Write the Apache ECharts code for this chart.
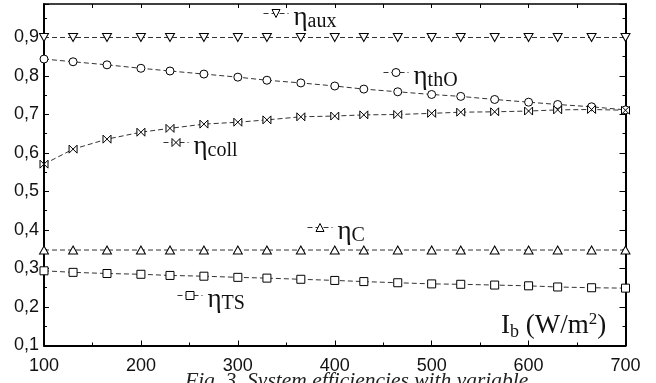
<!DOCTYPE html>
<html><head><meta charset="utf-8">
<script src="https://cdn.jsdelivr.net/npm/echarts@6/dist/echarts.min.js"></script>
<style>html,body{margin:0;padding:0;background:#fff}#c{width:656px;height:383px}</style>
</head><body><div id="c"></div>
<script>
// Beam irradiance I_b (W/m2)
const irradiance = [100,130,165,200,230,265,300,330,365,400,430,465,500,530,565,600,630,665,700];
const etaAux  = [0.900,0.900,0.900,0.900,0.900,0.900,0.900,0.900,0.900,0.900,0.900,0.900,0.900,0.900,0.900,0.900,0.900,0.900,0.900];
const etaThO  = [0.844,0.837,0.829,0.820,0.813,0.805,0.797,0.789,0.782,0.774,0.766,0.759,0.752,0.747,0.739,0.732,0.726,0.720,0.712];
const etaColl = [0.571,0.610,0.636,0.654,0.664,0.675,0.680,0.686,0.694,0.696,0.699,0.700,0.703,0.706,0.707,0.709,0.712,0.713,0.711];
const etaC    = [0.348,0.348,0.348,0.348,0.348,0.348,0.348,0.348,0.348,0.348,0.348,0.348,0.348,0.348,0.348,0.348,0.348,0.348,0.348];
const etaTS   = [0.294,0.290,0.287,0.285,0.282,0.280,0.277,0.275,0.272,0.269,0.266,0.263,0.260,0.259,0.257,0.255,0.252,0.250,0.249];
const yTicks  = ['0,1','0,2','0,3','0,4','0,5','0,6','0,7','0,8','0,9'];
const xTicks  = ['100','200','300','400','500','600','700'];

const SERIF = 'Liberation Serif';
const SANS = 'Liberation Sans';

function pairs(ys){ return irradiance.map((x,i)=>[x, ys[i]]); }
function line(name, ys, symbol, size, rotate){
  return {
    name, type:'line', data: pairs(ys), symbol, symbolSize:size, symbolRotate: rotate||0,
    showAllSymbol:true, animation:false, z:3,
    lineStyle:{color:'#333', width:1, type:[5,3]},
    itemStyle:{color:'#fff', borderColor:'#000', borderWidth:1}
  };
}
function lg(name, left, top){
  return {
    data:[name], left, top, padding:0, itemWidth:25, itemHeight:10, selectedMode:false,
    itemStyle:{color:'#fff', borderColor:'#000', borderWidth:1},
    lineStyle:{color:'#333', width:1, type:[5,3]},
    formatter: n => '{e|η}{s|' + n + '}',
    textStyle:{ padding:[8,0,0,0], rich:{
      e:{fontFamily:SERIF, fontSize:27, lineHeight:28, color:'#111'},
      s:{fontFamily:SERIF, fontSize:20, lineHeight:21, verticalAlign:'bottom', color:'#111'}
    }}
  };
}
const chart = echarts.init(document.getElementById('c'));
const tickCol = '#000';
chart.setOption({
  animation:false,
  backgroundColor:'#fff',
  grid:{left:44, right:30.5, top:4, bottom:37.5},
  xAxis:[
    {type:'value', min:100, max:700, interval:100, position:'bottom',
     axisLine:{lineStyle:{color:tickCol, width:2}},
     axisTick:{inside:true, length:5, lineStyle:{color:tickCol, width:1}},
     minorTick:{show:true, splitNumber:2, length:3, lineStyle:{color:tickCol, width:1}},
     splitLine:{show:false},
     axisLabel:{color:'#111', fontFamily:SANS, fontSize:18, margin:12,
       formatter: v => xTicks[Math.round((v-100)/100)] }},
    {type:'value', min:100, max:700, interval:100, position:'top',
     axisLine:{lineStyle:{color:tickCol, width:1.5}},
     axisTick:{inside:true, length:4, lineStyle:{color:tickCol, width:1}},
     minorTick:{show:true, splitNumber:2, length:4, lineStyle:{color:tickCol, width:1}},
     splitLine:{show:false}, axisLabel:{show:false}}
  ],
  yAxis:[
    {type:'value', min:0.1, max:0.987, interval:0.1, position:'left',
     axisLine:{show:true, lineStyle:{color:tickCol, width:2}},
     axisTick:{inside:true, length:5, lineStyle:{color:tickCol, width:1}},
     minorTick:{show:true, splitNumber:2, length:3, lineStyle:{color:tickCol, width:1}},
     splitLine:{show:false},
     axisLabel:{color:'#111', fontFamily:SANS, fontSize:18, margin:5, showMaxLabel:false,
       formatter: v => yTicks[Math.round((v-0.1)*10)] || '' }},
    {type:'value', min:0.1, max:0.987, interval:0.1, position:'right',
     axisLine:{show:true, lineStyle:{color:tickCol, width:2}},
     axisTick:{inside:true, length:6, lineStyle:{color:tickCol, width:1}},
     minorTick:{show:true, splitNumber:2, length:3, lineStyle:{color:tickCol, width:1}},
     splitLine:{show:false}, axisLabel:{show:false}}
  ],
  legend:[
    lg('aux', 263, 4),
    lg('thO', 383, 63),
    lg('coll', 163, 133),
    lg('C', 307, 218),
    lg('TS', 177, 286)
  ],
  title:[
    {text:'{i|I}{b|b}{i| (W/m}{p|2}{i|)}', left:501, top:311, padding:0,
     textStyle:{fontWeight:'normal', rich:{
       i:{fontFamily:SERIF, fontSize:27, fontWeight:'normal', lineHeight:30, color:'#111'},
       b:{fontFamily:SERIF, fontSize:18, fontWeight:'normal', lineHeight:16, verticalAlign:'bottom', color:'#111'},
       p:{fontFamily:SERIF, fontSize:17, fontWeight:'normal', lineHeight:16, verticalAlign:'top', color:'#111'}
     }}},
    {text:'Fig. 3. System efficiencies with variable', left:185, top:370, padding:0,
     textStyle:{fontFamily:SERIF, fontStyle:'italic', fontWeight:'normal', fontSize:21.5, color:'#222'}}
  ],
  series:[
    line('aux', etaAux, 'triangle', [9,8], 180),
    line('thO', etaThO, 'circle', 8),
    line('coll', etaColl, 'path://M0,0L0,10L10,0L10,10Z', 8),
    line('C', etaC, 'triangle', [9,8]),
    line('TS', etaTS, 'rect', 8)
  ]
});
</script></body></html>
